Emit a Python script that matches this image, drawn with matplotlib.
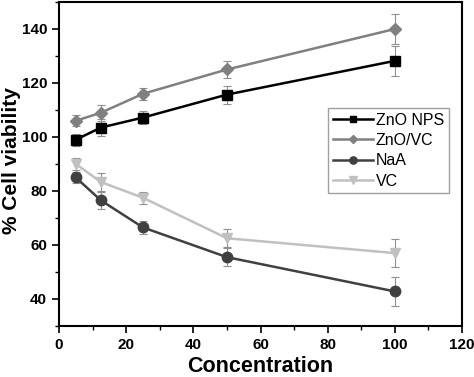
import matplotlib
matplotlib.use("Agg")
import matplotlib.pyplot as plt
from matplotlib.ticker import MultipleLocator
from matplotlib.lines import Line2D

plt.rcParams['font.family'] = ['Liberation Sans', 'DejaVu Sans']

conc = [5, 12.5, 25, 50, 100]
zno_nps = [99, 103.5, 107.2, 115.7, 128.2]
zno_nps_err = [2.2, 3.2, 2.4, 3.3, 5.5]
zno_vc = [106, 109, 116, 125, 140]
zno_vc_err = [2.0, 3.0, 2.3, 3.3, 5.5]
naa = [85, 76.5, 66.5, 55.5, 42.8]
naa_err = [2.0, 3.2, 2.3, 3.3, 5.3]
vc = [90, 83.3, 77.5, 62.5, 57]
vc_err = [2.4, 3.3, 2.2, 3.4, 5.3]

series = [
    ("ZnO NPS", zno_nps, zno_nps_err, "#000000", "s", 6.5),
    ("ZnO/VC", zno_vc, zno_vc_err, "#808080", "D", 6),
    ("NaA", naa, naa_err, "#404040", "o", 7.5),
    ("VC", vc, vc_err, "#c0c0c0", "v", 7.5),
]

fig = plt.figure(figsize=(4.74, 3.77), dpi=100)
ax = fig.add_axes([0.1245, 0.1353, 0.8502, 0.8594])

handles = []
for name, y, e, c, m, ms in series:
    ax.errorbar(conc, y, yerr=e, color=c, marker=m, markersize=ms, lw=1.8,
                ecolor="#909090", elinewidth=0.8, capsize=3, capthick=0.8)
    handles.append(Line2D([], [], color=c, marker=m, markersize=ms * 0.7,
                          lw=1.8, label=name))

ax.set_xlim(0, 120)
ax.set_ylim(30, 150)
ax.xaxis.set_major_locator(MultipleLocator(20))
ax.xaxis.set_minor_locator(MultipleLocator(10))
ax.yaxis.set_major_locator(MultipleLocator(20))
ax.yaxis.set_minor_locator(MultipleLocator(10))
ax.tick_params(which='major', direction='out', length=5, width=1.2, labelsize=11)
ax.tick_params(which='minor', direction='out', length=3, width=1.0)
for lab in ax.get_xticklabels() + ax.get_yticklabels():
    lab.set_fontweight('bold')
for sp in ax.spines.values():
    sp.set_linewidth(1.5)

ax.set_xlabel("Concentration", fontsize=15.5, fontweight='bold', labelpad=3)
ax.set_ylabel("% Cell viability", fontsize=15, fontweight='bold')
ax.yaxis.set_label_coords(-0.094, 0.51)

leg = ax.legend(handles=handles, loc='upper left', bbox_to_anchor=(0.667, 0.673),
                fontsize=11.5, frameon=True, fancybox=False, handlelength=2.5,
                borderpad=0.3, labelspacing=0.33, handletextpad=0.2,
                borderaxespad=0)
leg.get_frame().set_edgecolor('#888888')
leg.get_frame().set_linewidth(1.0)

fig.savefig("out.png", dpi=100)
